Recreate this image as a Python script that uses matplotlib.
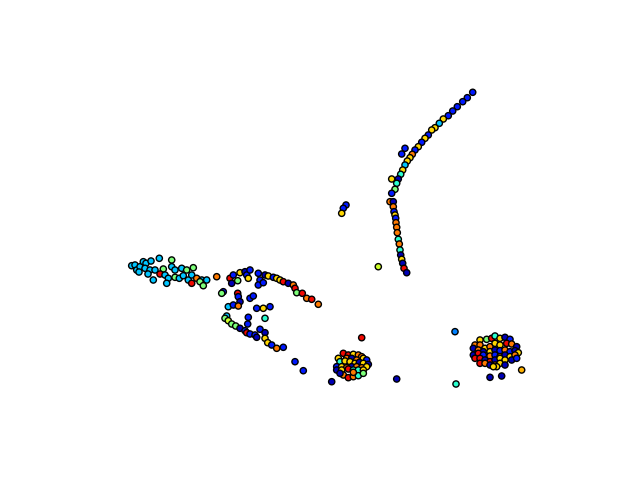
import numpy as np
import matplotlib
matplotlib.use('Agg')
import matplotlib.pyplot as plt

# значення кольору (0..1 по шкалі jet)
DB, B, SK, CY, GR, YG, YE, OR, RD = 0.05, 0.15, 0.32, 0.40, 0.50, 0.60, 0.68, 0.78, 0.90

# ліва група
left_x = [131.7, 135, 136.7, 140, 143.3, 146, 151, 145, 150, 155, 159.3, 171.7, 163.3, 160, 165,
          168.3, 153.3, 166.7, 171.7, 175, 181.7, 186.7, 193.3, 175, 179.3, 183.3, 188.3, 191.7,
          196.7, 201.7, 206.7, 200, 203.3, 191.7, 216.7, 139, 148]
left_y = [265.7, 265, 270, 266.7, 261.7, 263.3, 261, 268.3, 270, 270, 258.3, 260, 269, 274, 275,
          278.3, 280, 283.3, 266.7, 270, 268.3, 270, 267.7, 277.3, 278.3, 275.7, 280, 275,
          278.3, 280, 280, 281.7, 285.7, 283.3, 276.7, 272, 274]
left_c = [SK, SK, SK, SK, SK, SK, SK, SK, SK, SK, SK, GR, GR, RD, SK,
          SK, SK, SK, SK, SK, SK, GR, GR, GR, SK, SK, SK, SK,
          OR, SK, SK, GR, GR, RD, OR, SK, SK]

# середня дуга
mid_x = [230, 231.7, 237.7, 233.3, 240, 245, 246.7, 248.3, 250, 258.3, 260, 258.3, 263.3, 265,
         268.3, 273.3, 276.7, 280, 283.3, 288.3, 293.3, 295, 296.7, 302.3, 306.7, 311.7, 318.3,
         223.3, 221.7, 237.7, 238.3, 240, 250, 253.3]
mid_y = [278.3, 283.3, 280.7, 275, 272.7, 271.7, 275, 278.3, 270, 273.3, 280, 285, 282.7, 275,
         276, 277.3, 278.3, 280, 281.7, 283.3, 285, 288.3, 292.7, 293.3, 298.3, 299.3, 304.3,
         291.7, 293.3, 293.3, 296.7, 301.7, 298.3, 296]
mid_c = [RD, DB, GR, B, YE, DB, B, YE, B, B, B, B, B, DB,
         YE, B, YE, YE, RD, DB, OR, RD, GR, RD, OR, RD, OR,
         B, GR, RD, B, DB, B, B]

# нижня дуга
low_x = [228.3, 233.3, 238.3, 256.7, 263.3, 270, 265, 226.7, 225, 228.3, 231.7, 235.7, 240, 245,
         246.7, 250, 255, 256.7, 248.3, 247.7, 260, 265, 265, 267.7, 271.7, 276.7, 283.3, 295,
         303.3, 331.7, 396.7, 456, 361.7]
low_y = [306.7, 305, 306, 308.3, 308.3, 306.7, 318.3, 316, 318.3, 320.7, 324, 326, 328.3, 330.7,
         332.7, 334, 335, 337.3, 317.3, 324, 329.3, 332.7, 338.3, 342.7, 345, 348.3, 347.3, 361.7,
         370.7, 381.7, 379, 384, 337.7]
low_c = [SK, B, OR, B, YE, B, CY, SK, GR, YG, GR, GR, DB, B,
         RD, B, B, DB, B, B, B, DB, YE, YE, B, OR, B, B,
         B, DB, DB, CY, RD]

# ліва хмара
b1_zx = [70, 85, 100, 115, 125, 55, 80, 95, 110, 130, 140, 60, 75, 90, 105, 118, 130, 145, 50, 65,
         80, 95, 110, 125, 140, 50, 65, 85, 100, 115, 130, 70, 85, 100, 115, 130, 60, 100]
b1_zy = [85, 90, 88, 90, 95, 100, 100, 100, 105, 100, 105, 110, 108, 110, 115, 112, 115, 118, 125, 125,
         128, 125, 125, 128, 125, 135, 135, 132, 135, 135, 135, 150, 158, 155, 152, 145, 145, 142]
b1_c = [RD, RD, YE, OR, OR, YE, OR, DB, OR, YE, B, CY, YE, YE, YE, DB, YE, DB, B, YE,
        OR, DB, OR, OR, YE, DB, YE, RD, CY, CY, YE, OR, RD, OR, CY, GR, DB, OR]
blob1_x = [v / 3 + 320 for v in b1_zx]
blob1_y = [v / 3 + 325 for v in b1_zy]

# права хмара
b2_zx = [120, 140, 155, 165, 180, 195, 210, 105, 120, 135, 150, 165, 180, 200, 215, 230, 100, 115,
         130, 150, 165, 180, 195, 210, 225, 235, 100, 115, 130, 150, 165, 180, 195, 210, 225, 105,
         120, 135, 150, 165, 180, 195, 215, 230, 120, 135, 150, 165, 180, 195, 170, 160,
         45, 150, 185, 245]
b2_zy = [60, 58, 55, 48, 55, 52, 58, 75, 75, 85, 80, 70, 75, 70, 72, 80, 85, 90,
         95, 95, 90, 92, 90, 95, 92, 98, 105, 100, 105, 108, 105, 110, 105, 110, 105, 115,
         115, 120, 125, 120, 115, 120, 120, 115, 130, 130, 135, 135, 130, 135, 140, 140,
         35, 172, 168, 150]
b2_c = [YE, GR, RD, CY, YE, DB, B, OR, OR, YE, OR, YE, YE, RD, OR, DB, DB, OR,
        DB, YE, DB, B, OR, B, DB, YE, DB, RD, B, OR, B, OR, DB, YE, OR, RD,
        RD, DB, RD, DB, YE, YE, DB, B, RD, OR, DB, OR, YE, DB, YE, YE,
        0.25, DB, DB, 0.72]
blob2_x = [v / 3 + 440 for v in b2_zx]
blob2_y = [v / 3 + 320 for v in b2_zy]

# верхня крива
top_x = [472.7, 467.3, 462.7, 457.3, 452.7, 448.3, 443.3, 439.3, 435, 431.7, 428.3, 425, 421.7,
         418.3, 415, 412.3, 410, 407.3, 405, 402.7, 400.7, 398.3, 391.7, 405, 401.7,
         396.7, 395, 391.7, 390, 393.3, 393.3, 394, 395, 395.7, 396, 396.7, 397.3, 398.3, 399.3,
         400, 400.7, 401.7, 402.7, 404, 406.7, 346, 343.3, 341.7, 378.3]
top_y = [92.3, 97.7, 101.7, 106.7, 111, 115.7, 119, 123.3, 127.7, 130, 135, 138.3, 142.3,
         146.7, 150, 154.3, 157.7, 161, 165, 170, 174.3, 179, 179, 148.3, 154,
         183.3, 189.3, 193.3, 201.7, 201.7, 206.7, 211.7, 215, 218.3, 222.7, 227.3, 232.7, 239.3, 244,
         250, 255, 259.3, 263.3, 268.3, 272.7, 205, 208.3, 213.3, 266.7]
top_c = [B, B, B, B, B, B, YE, SK, YE, YE, B, YE, B,
         YE, B, OR, YE, YE, SK, YE, CY, DB, YE, B, B,
         CY, GR, B, OR, DB, OR, B, YE, B, OR, OR, OR, CY, OR,
         CY, DB, YE, DB, RD, DB, B, B, YE, YG]

xs = left_x + mid_x + low_x + blob1_x + blob2_x + top_x
ys = left_y + mid_y + low_y + blob1_y + blob2_y + top_y
cs = left_c + mid_c + low_c + b1_c + b2_c + top_c

fig = plt.figure(figsize=(6.4, 4.8), dpi=100)
ax = fig.add_axes([0.125, 0.11, 0.775, 0.77])
ax.scatter(xs, ys, c=cs, cmap='jet', vmin=0, vmax=1, s=20, edgecolors='k', linewidths=1)
ax.set_xlim(80, 576)
ax.set_ylim(427.2, 57.6)
ax.axis('off')

plt.savefig('out.png', dpi=100)
plt.close()
